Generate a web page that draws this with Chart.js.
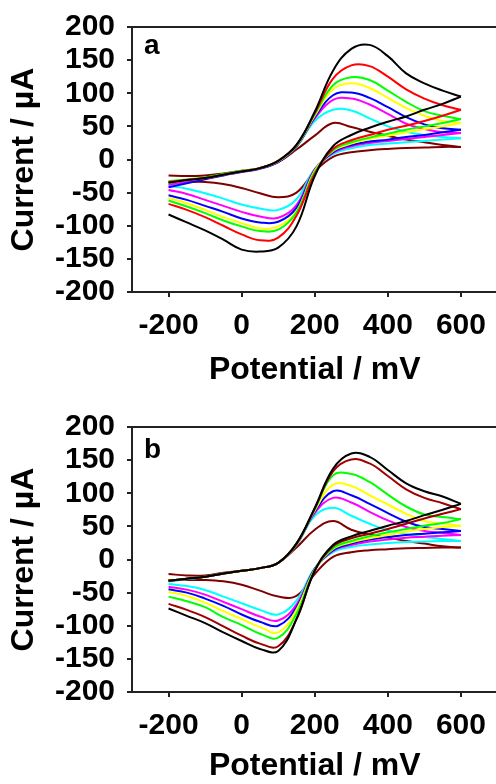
<!DOCTYPE html>
<html>
<head>
<meta charset="utf-8">
<script src="https://cdn.jsdelivr.net/npm/chart.js@4.4.1/dist/chart.umd.min.js"></script>
<style>
    html, body { margin: 0; padding: 0; background: #fff; overflow: hidden; }
    #wrap { position: relative; width: 496px; height: 784px; overflow: hidden; }
    canvas { position: absolute; left: 0; }
    #cv_a { top: 0; width: 502px; height: 400px; }
    #cv_b { top: 400px; width: 502px; height: 384px; }
</style>
</head>
<body>
<div id="wrap">
    <canvas id="cv_a" width="502" height="400"></canvas>
    <canvas id="cv_b" width="502" height="384"></canvas>
</div>
<script>
    var FONT = "'Liberation Sans', Arial, sans-serif";

    // potential grid (mV): forward scan -200 -> 600, reverse scan 600 -> -200
    var potentialFwd = [-200, -150, -100, -50, 0, 50, 100, 150, 200, 250, 300, 350, 400, 450, 500, 550, 600];
    var potentialRev = [600, 550, 500, 450, 400, 350, 300, 250, 200, 150, 100, 50, 0, -50, -100, -150, -200];
    var xTickValues = [-200, 0, 200, 400, 600];
    var yTickStep = 50;

    // panel a, current (uA)
    var aBlackFwd   = [-35, -31, -28, -23, -18, -13, -2, 22, 72, 134, 167, 173, 156, 130, 115, 104, 95];
    var aBlackRev   = [95, 84, 75, 65, 57, 48, 37, 20, -25, -101, -133, -139, -136, -121, -107, -95, -83];
    var aRedFwd     = [-34, -31, -28, -23, -18, -13, -2, 22, 70, 122, 142, 141, 125, 106, 92, 82, 75];
    var aRedRev     = [75, 66, 58, 51, 45, 37, 29, 16, -22, -85, -118, -122, -113, -100, -87, -76, -67];
    var aGreenFwd   = [-33, -30, -27, -22, -17, -13, -2, 21, 68, 112, 124, 120, 104, 87, 73, 66, 61];
    var aGreenRev   = [61, 55, 50, 45, 39, 33, 26, 14, -19, -80, -106, -108, -101, -92, -81, -71, -62];
    var aYellowFwd  = [-35, -31, -28, -23, -18, -13, -3, 21, 66, 106, 115, 108, 93, 78, 66, 58, 55];
    var aYellowRev  = [55, 50, 46, 41, 36, 31, 24, 13, -17, -78, -101, -104, -96, -87, -76, -66, -58];
    var aBlueFwd    = [-42, -36, -30, -24, -19, -14, -4, 20, 64, 97, 101, 93, 79, 64, 53, 47, 45];
    var aBlueRev    = [45, 41, 37, 34, 30, 27, 22, 11, -16, -73, -94, -95, -89, -79, -70, -61, -54];
    var aMagentaFwd = [-38, -34, -29, -23, -18, -13, -3, 20, 62, 90, 92, 83, 69, 54, 46, 41, 40];
    var aMagentaRev = [40, 37, 34, 31, 28, 25, 20, 10, -15, -69, -88, -86, -79, -70, -61, -52, -46];
    var aCyanFwd    = [-37, -33, -28, -23, -18, -13, -3, 19, 58, 75, 74, 62, 50, 42, 37, 34, 32];
    var aCyanRev    = [32, 30, 28, 26, 24, 22, 17, 8, -14, -60, -76, -74, -68, -59, -51, -44, -40];
    var aBrownFwd   = [-24, -25, -24, -21, -17, -13, -4, 15, 36, 55, 49, 42, 36, 30, 26, 22, 19];
    var aBrownRev   = [19, 19, 18, 17.5, 16, 14, 11, 4, -18, -50, -57, -51, -43, -37, -34, -34, -34];

    // panel b, current (uA)
    var bBlackFwd   = [-32, -29, -26, -21, -17, -13, -5, 24, 78, 137, 160, 155, 135, 115, 103, 95, 84];
    var bBlackRev   = [84, 75, 67, 58, 51, 43, 35, 22, -17, -90, -138, -135, -123, -110, -96, -85, -74];
    var bDarkRedFwd = [-32, -29, -26, -21, -17, -13, -5, 24, 77, 133, 151, 145, 126, 106, 93, 85, 76];
    var bDarkRedRev = [76, 69, 62, 54, 46, 39, 32, 20, -17, -90, -131, -127, -115, -101, -87, -76, -67];
    var bGreenFwd   = [-32, -29, -26, -21, -17, -13, -5, 24, 76, 127, 129, 117, 98, 80, 68, 64, 61];
    var bGreenRev   = [61, 55, 51, 46, 41, 35, 28, 17, -16, -82, -118, -112, -99, -87, -72, -63, -56];
    var bYellowFwd  = [-32, -29, -26, -21, -17, -13, -5, 23, 74, 113, 111, 97, 83, 69, 58, 54, 51];
    var bYellowRev  = [51, 49, 46, 42, 37, 32, 26, 16, -15, -76, -110, -102, -90, -78, -65, -55, -49];
    var bBlueFwd    = [-32, -29, -26, -21, -17, -13, -5, 23, 72, 103, 97, 84, 70, 57, 49, 46, 43];
    var bBlueRev    = [43, 41, 39, 37, 34, 30, 24, 14, -14, -72, -100, -94, -83, -70, -59, -50, -45];
    var bMagentaFwd = [-33, -29, -26, -21, -17, -13, -5, 23, 70, 93, 86, 72, 59, 49, 43, 40, 37];
    var bMagentaRev = [37, 36, 34.5, 33, 30, 27, 22, 13, -14, -68, -92, -86, -75, -64, -53, -45.5, -41];
    var bCyanFwd    = [-33, -30, -26, -21, -17, -13, -5, 22, 66, 78, 66, 54, 44, 38, 34, 31, 28];
    var bCyanRev    = [28, 28, 27, 26.5, 25, 22.5, 19, 11, -13, -62, -83, -76, -66, -56, -46, -40, -37];
    var bBrownFwd   = [-22, -24, -24, -20, -17, -13, -5, 18, 45, 58, 45, 38, 33, 28, 24, 20, 18];
    var bBrownRev   = [18, 18, 17.5, 17, 15.5, 14, 11, 4, -22, -55, -56, -47, -38, -33, -31, -31, -31];

    var colorsA = ['#000000', '#ff0000', '#00ff00', '#ffff00', '#0000ff', '#ff00ff', '#00ffff', '#800000'];
    var colorsB = ['#000000', '#a00000', '#00ff00', '#ffff00', '#0000ff', '#ff00ff', '#00ffff', '#800000'];

    function lineSet(xs, ys, color) {
        return {
            data: xs.map(function (x, k) { return {x: x, y: ys[k]}; }),
            borderColor: color,
            borderWidth: 2,
            pointRadius: 0,
            showLine: true,
            fill: false,
            tension: 0.4
        };
    }

    function buildDatasets(fwd, rev, colors) {
        var sets = [];
        fwd.forEach(function (vals, i) {
            sets.push(lineSet(potentialFwd, vals, colors[i]));
            sets.push(lineSet(potentialRev, rev[i], colors[i]));
        });
        return sets;
    }

    // box round the plot area + panel letter
    var framePlugin = {
        id: 'frame',
        afterDatasetsDraw: function (chart, args, opts) {
            var a = chart.chartArea;
            var ctx = chart.ctx;
            ctx.save();
            ctx.strokeStyle = '#222';
            ctx.lineWidth = 2;
            ctx.strokeRect(a.left, a.top, a.right - a.left, a.bottom - a.top);
            ctx.fillStyle = '#000';
            ctx.font = 'bold 28px ' + FONT;
            ctx.textBaseline = 'alphabetic';
            ctx.fillText(opts.letter, opts.lx, opts.ly);
            ctx.restore();
        }
    };

    function axisGrid() {
        return {drawOnChartArea: false, drawTicks: true, tickLength: 5, color: '#222', lineWidth: 2};
    }

    function makeChart(id, datasets, letter, letterY, xHeight, titlePad) {
        return new Chart(document.getElementById(id), {
            type: 'scatter',
            data: {datasets: datasets},
            plugins: [framePlugin],
            options: {
                responsive: false,
                animation: false,
                events: [],
                layout: {padding: {top: 27, right: 4.5, bottom: 0, left: 0}},
                plugins: {
                    legend: {display: false},
                    tooltip: {enabled: false},
                    frame: {letter: letter, lx: 144, ly: letterY}
                },
                scales: {
                    x: {
                        type: 'linear',
                        min: -300,
                        max: 700,
                        afterBuildTicks: function (scale) {
                            scale.ticks = xTickValues.map(function (v) { return {value: v}; });
                        },
                        afterFit: function (scale) { scale.height = xHeight; },
                        grid: axisGrid(),
                        border: {display: false},
                        ticks: {
                            color: '#000',
                            padding: 14,
                            maxRotation: 0,
                            autoSkip: false,
                            font: {family: FONT, size: 30, weight: 'bold', lineHeight: 1}
                        },
                        title: {
                            display: true,
                            text: 'Potential / mV',
                            color: '#000',
                            padding: {top: 0, bottom: titlePad},
                            font: {family: FONT, size: 32, weight: 'bold', lineHeight: 1}
                        }
                    },
                    y: {
                        type: 'linear',
                        min: -200,
                        max: 200,
                        afterFit: function (scale) { scale.width = 132; },
                        grid: axisGrid(),
                        border: {display: false},
                        ticks: {
                            stepSize: yTickStep,
                            autoSkip: false,
                            color: '#000',
                            padding: 12,
                            font: {family: FONT, size: 30, weight: 'bold', lineHeight: 1}
                        },
                        title: {
                            display: true,
                            text: 'Current / µA',
                            color: '#000',
                            padding: {top: 8, bottom: 0},
                            font: {family: FONT, size: 32, weight: 'bold', lineHeight: 1}
                        }
                    }
                }
            }
        });
    }

    makeChart('cv_a', buildDatasets(
        [aBlackFwd, aRedFwd, aGreenFwd, aYellowFwd, aBlueFwd, aMagentaFwd, aCyanFwd, aBrownFwd],
        [aBlackRev, aRedRev, aGreenRev, aYellowRev, aBlueRev, aMagentaRev, aCyanRev, aBrownRev],
        colorsA), 'a', 54, 108, 13.5);

    makeChart('cv_b', buildDatasets(
        [bBlackFwd, bDarkRedFwd, bGreenFwd, bYellowFwd, bBlueFwd, bMagentaFwd, bCyanFwd, bBrownFwd],
        [bBlackRev, bDarkRedRev, bGreenRev, bYellowRev, bBlueRev, bMagentaRev, bCyanRev, bBrownRev],
        colorsB), 'b', 58, 92, 2);
</script>
</body>
</html>
